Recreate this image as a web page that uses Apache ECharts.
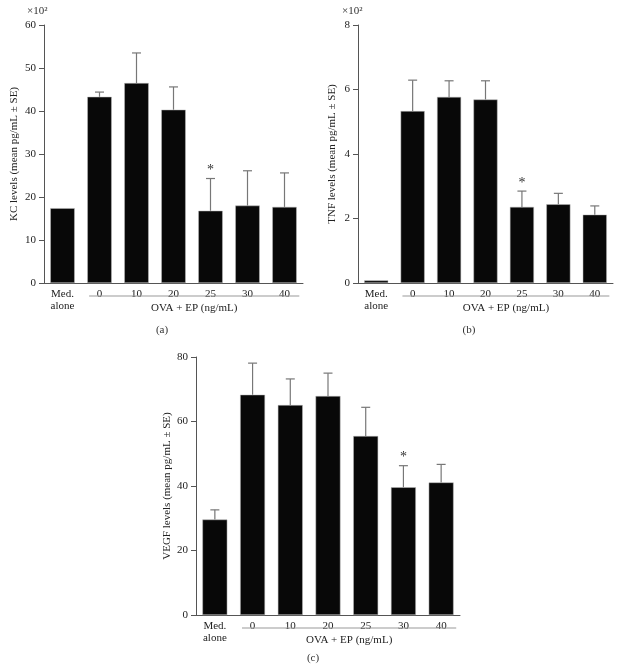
<!DOCTYPE html>
<html><head><meta charset="utf-8">
<script src="https://cdn.jsdelivr.net/npm/echarts@6/dist/echarts.min.js"></script>
<style>html,body{margin:0;padding:0;background:#fff}#c{width:635px;height:670px}</style>
</head><body><div id="c"></div>
<script>
const categories = ['Med.\nalone', '0', '10', '20', '25', '30', '40'];
const groupLabel = 'OVA + EP (ng/mL)';
const kcMean = [17.4, 43.3, 46.5, 40.3, 16.8, 18.0, 17.7];
const kcSE   = [null, 1.1, 7.0, 5.3, 7.5, 8.1, 7.9];
const tnfMean = [0.08, 5.33, 5.77, 5.69, 2.36, 2.44, 2.12];
const tnfSE   = [null, 0.96, 0.50, 0.58, 0.49, 0.34, 0.27];
const vegfMean = [29.6, 68.3, 65.1, 67.9, 55.5, 39.6, 41.1];
const vegfSE   = [3.0, 9.8, 8.1, 7.1, 8.9, 6.7, 5.6];
const kcStar = [0, 0, 0, 0, 1, 0, 0];
const tnfStar = [0, 0, 0, 0, 1, 0, 0];
const vegfStar = [0, 0, 0, 0, 0, 1, 0];
const yNames = ['KC levels (mean pg/mL \u00b1 SE)', 'TNF levels (mean pg/mL \u00b1 SE)', 'VEGF levels (mean pg/mL \u00b1 SE)'];
const yMax = [60, 8, 80];
const yInterval = [10, 2, 20];
const panelLabels = ['(a)', '(b)', '(c)'];

const FONT = 'Liberation Serif';
const AX = '#555';
const panels = [
  {mean: kcMean, se: kcSE, star: kcStar},
  {mean: tnfMean, se: tnfSE, star: tnfStar},
  {mean: vegfMean, se: vegfSE, star: vegfStar}
];
const grids = [
  {left: 44, top: 25, width: 259, height: 258},
  {left: 358, top: 25, width: 255, height: 258},
  {left: 196, top: 357, width: 264, height: 258}
];
const nameGaps = [24, 20, 19];

const xAxes = [], yAxes = [], series = [];
panels.forEach((p, i) => {
  xAxes.push({
    type: 'category', gridIndex: i, data: categories,
    axisLine: {lineStyle: {color: AX, width: 1}},
    axisTick: {show: false},
    axisLabel: {color: '#222', fontFamily: FONT, fontSize: 11, margin: 5, lineHeight: 12}
  });
  yAxes.push({
    type: 'value', gridIndex: i, min: 0, max: yMax[i], interval: yInterval[i],
    name: yNames[i], nameLocation: 'middle', nameGap: nameGaps[i],
    nameTextStyle: {color: '#222', fontFamily: FONT, fontSize: 11},
    axisLine: {show: true, lineStyle: {color: AX, width: 1}},
    axisTick: {show: true, length: 5, lineStyle: {color: AX}},
    axisLabel: {color: '#222', fontFamily: FONT, fontSize: 11, margin: 8},
    splitLine: {show: false}
  });
  series.push({
    type: 'bar', xAxisIndex: i, yAxisIndex: i, data: p.mean,
    barWidth: '66%', itemStyle: {color: '#080808', borderColor: '#bbb', borderWidth: 0.5},
    silent: true
  });
  const errData = p.mean.map((m, k) => [k, m, p.se[k] == null ? m : m + p.se[k], p.star[k], p.se[k] == null ? 0 : 1]);
  series.push({
    type: 'custom', xAxisIndex: i, yAxisIndex: i, data: errData, clip: false, silent: true, z: 5,
    encode: {x: 0, y: 1},
    renderItem: function (params, api) {
      const x = api.value(0), m = api.value(1), u = api.value(2), st = api.value(3), has = api.value(4);
      const children = [];
      if (has) {
        const b = api.coord([x, m]);
        const t = api.coord([x, u]);
        const st2 = {stroke: '#777', lineWidth: 1.2};
        children.push({type: 'line', shape: {x1: b[0], y1: b[1], x2: t[0], y2: t[1]}, style: st2});
        children.push({type: 'line', shape: {x1: t[0] - 4.5, y1: t[1], x2: t[0] + 4.5, y2: t[1]}, style: st2});
        if (st) {
          children.push({type: 'text', style: {text: '*', x: t[0], y: t[1] - 1, align: 'center', verticalAlign: 'bottom', font: '14px ' + FONT, fill: '#333'}});
        }
      }
      return {type: 'group', children: children};
    }
  });
  // group bracket + label
  series.push({
    type: 'custom', xAxisIndex: i, yAxisIndex: i, data: [[0, 0]], clip: false, silent: true,
    encode: {x: 0, y: 1},
    renderItem: function (params, api) {
      const band = api.size([1, 0])[0];
      const a = api.coord([1, 0]);
      const z = api.coord([categories.length - 1, 0]);
      const x1 = a[0] - 0.28 * band, x2 = z[0] + 0.4 * band;
      const y = a[1] + 13;
      return {type: 'group', children: [
        {type: 'line', shape: {x1: x1, y1: y, x2: x2, y2: y}, style: {stroke: '#999', lineWidth: 1}},
        {type: 'text', style: {text: groupLabel, x: (x1 + x2) / 2, y: y + 12, align: 'center', verticalAlign: 'middle', font: '11px ' + FONT, fill: '#222'}}
      ]};
    }
  });
});

const graphic = [
  {type: 'text', left: 27, top: 6, style: {text: '\u00d710\u00b2', font: '11px ' + FONT, fill: '#333'}},
  {type: 'text', left: 342, top: 6, style: {text: '\u00d710\u00b2', font: '11px ' + FONT, fill: '#333'}},
  {type: 'text', x: 162, y: 330, style: {text: panelLabels[0], align: 'center', verticalAlign: 'middle', font: '11px ' + FONT, fill: '#333'}},
  {type: 'text', x: 469, y: 330, style: {text: panelLabels[1], align: 'center', verticalAlign: 'middle', font: '11px ' + FONT, fill: '#333'}},
  {type: 'text', x: 313, y: 658, style: {text: panelLabels[2], align: 'center', verticalAlign: 'middle', font: '11px ' + FONT, fill: '#333'}}
];

const chart = echarts.init(document.getElementById('c'), null, {renderer: 'canvas'});
chart.setOption({
  animation: false,
  backgroundColor: '#fff',
  grid: grids,
  xAxis: xAxes,
  yAxis: yAxes,
  series: series,
  graphic: graphic
});
</script></body></html>
